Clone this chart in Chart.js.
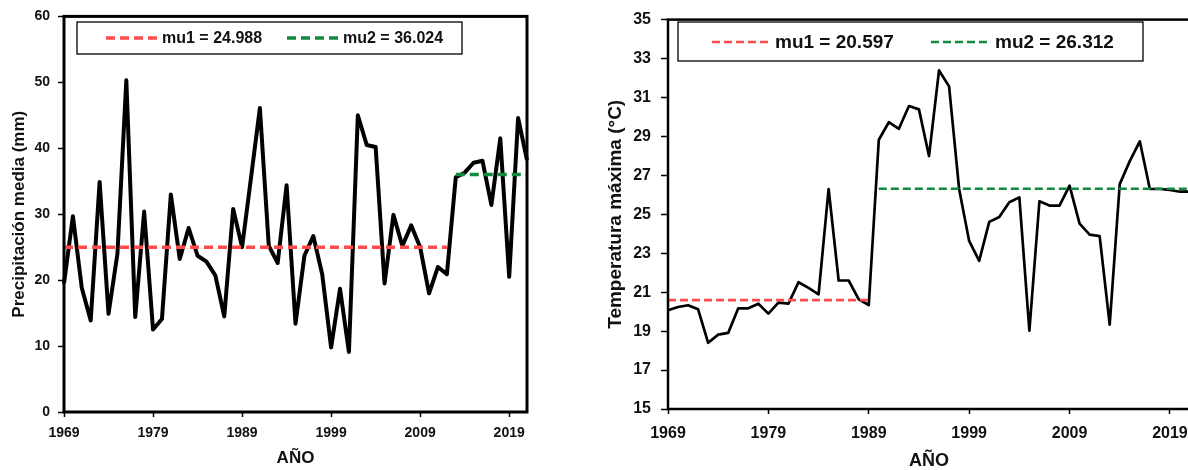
<!DOCTYPE html>
<html>
<head>
<meta charset="utf-8">
<script src="https://cdn.jsdelivr.net/npm/chart.js@4/dist/chart.umd.min.js"></script>
<style>
  html, body { margin: 0; padding: 0; background: #fff; overflow: hidden; width: 1188px; height: 470px; }
  .box { position: absolute; top: 0; }
</style>
</head>
<body>
<div class="box" style="left:0"><canvas id="rain" width="560" height="470"></canvas></div>
<div class="box" style="left:590px"><canvas id="temp" width="610" height="470"></canvas></div>
<script>
/*global Chart */
const years = [1969, 1970, 1971, 1972, 1973, 1974, 1975, 1976, 1977, 1978,
  1979, 1980, 1981, 1982, 1983, 1984, 1985, 1986, 1987, 1988,
  1989, 1990, 1991, 1992, 1993, 1994, 1995, 1996, 1997, 1998,
  1999, 2000, 2001, 2002, 2003, 2004, 2005, 2006, 2007, 2008,
  2009, 2010, 2011, 2012, 2013, 2014, 2015, 2016, 2017, 2018,
  2019, 2020, 2021]

const precipitation = [19.5, 29.7, 18.8, 13.9, 34.9, 14.9, 24.0, 50.3, 14.4, 30.4,
  12.5, 14.1, 33.0, 23.2, 27.9, 23.7, 22.8, 20.7, 14.5, 30.8,
  25.0, 35.5, 46.1, 25.2, 22.6, 34.4, 13.4, 23.7, 26.7, 20.9,
  9.8, 18.7, 9.1, 45.0, 40.5, 40.2, 19.5, 29.9, 25.2, 28.3,
  25.0, 18.0, 22.0, 20.9, 35.6, 36.3, 37.8, 38.1, 31.4, 41.5,
  20.5, 44.6, 38.2]

const tempMax = [20.07, 20.24, 20.33, 20.12, 18.40, 18.82, 18.91, 20.17, 20.17, 20.41,
  19.90, 20.46, 20.41, 21.51, 21.22, 20.89, 26.30, 21.60, 21.60, 20.63,
  20.34, 28.83, 29.73, 29.39, 30.56, 30.39, 27.99, 32.39, 31.57, 26.30,
  23.63, 22.61, 24.61, 24.86, 25.62, 25.87, 19.02, 25.67, 25.45, 25.45,
  26.47, 24.52, 23.96, 23.88, 19.33, 26.55, 27.73, 28.75, 26.30, 26.30,
  26.25, 26.16, 26.16]

// means before / after the change point (last year of first segment)
const rainMu = [24.988, 36.024]
const rainBreak = 2012
const tempMu = [20.597, 26.312]
const tempBreak = 1989

const RED = '#ff4b4b'
const GREEN = '#13893d'
const FONT = "'Liberation Sans', Arial, sans-serif"

const segment = (mu, lastYear, first) => years.map(y => (first ? y <= lastYear : y > lastYear) ? mu : null)

// frame around the plot area + boxed legend
const framePlugin = {
  id: 'frame',
  afterDatasetsDraw (chart, args, opts) {
    const { ctx, chartArea: a } = chart
    ctx.save()
    ctx.strokeStyle = '#000'
    ctx.lineWidth = opts.width
    ctx.strokeRect(a.left, a.top, a.right - a.left, a.bottom - a.top)

    const lg = opts.legend
    ctx.fillStyle = '#fff'
    ctx.fillRect(lg.x, lg.y, lg.w, lg.h)
    ctx.lineWidth = 1.3
    ctx.strokeRect(lg.x, lg.y, lg.w, lg.h)
    ctx.font = lg.font
    ctx.textBaseline = 'middle'
    lg.items.forEach(item => {
      const ds = chart.data.datasets[item.dataset]
      ctx.strokeStyle = ds.borderColor
      ctx.lineWidth = ds.borderWidth
      ctx.setLineDash(lg.dash)
      ctx.beginPath()
      ctx.moveTo(item.x0, lg.cy)
      ctx.lineTo(item.x1, lg.cy)
      ctx.stroke()
      ctx.setLineDash([])
      ctx.fillStyle = '#111'
      ctx.fillText(ds.label, item.tx, lg.cy + 1)
    })
    ctx.restore()
  }
}

const makeChart = (id, cfg) => new Chart(document.getElementById(id), {
  type: 'line',
  data: {
    labels: years,
    datasets: [
      { label: cfg.muLabels[0], data: segment(cfg.mu[0], cfg.brk, true), borderColor: RED, borderWidth: cfg.dashWidth, borderDash: cfg.dash, pointRadius: 0, order: 1 },
      { label: cfg.muLabels[1], data: segment(cfg.mu[1], cfg.brk, false), borderColor: GREEN, borderWidth: cfg.dashWidth, borderDash: cfg.dash, pointRadius: 0, order: 1 },
      { label: cfg.seriesLabel, data: cfg.values, borderColor: '#000', borderWidth: cfg.lineWidth, pointRadius: 0, tension: 0, borderJoinStyle: 'round', order: 2 },
    ]
  },
  options: {
    responsive: false,
    animation: false,
    layout: { padding: cfg.padding },
    plugins: {
      legend: { display: false },
      tooltip: { enabled: false },
      frame: { width: cfg.frameWidth, legend: cfg.legend },
    },
    scales: {
      x: {
        type: 'category',
        afterFit: scale => { scale.height = cfg.xHeight },
        grid: {
          drawOnChartArea: false,
          tickLength: 5,
          tickWidth: 1.5,
          tickColor: c => (c.tick && (years[c.index] - 1969) % 10 === 0) ? '#000' : 'rgba(0,0,0,0)',
        },
        border: { display: false },
        ticks: {
          autoSkip: false, maxRotation: 0, minRotation: 0, padding: cfg.xTickPad,
          color: '#111', font: { family: FONT, size: cfg.tickSize, weight: 'bold' },
          callback: function (v, i) { return (years[i] - 1969) % 10 === 0 ? String(years[i]) : '' }
        },
        title: { display: true, text: 'AÑO', color: '#111', padding: { top: 0, bottom: cfg.xTitlePad }, font: { family: FONT, size: cfg.xTitleSize, weight: 'bold' } },
      },
      y: {
        min: cfg.yMin, max: cfg.yMax,
        afterFit: scale => { scale.width = cfg.yWidth },
        grid: { drawOnChartArea: false, tickLength: cfg.yTickLen, tickWidth: 1.5, tickColor: '#000' },
        border: { display: false },
        ticks: { stepSize: cfg.yStep, padding: cfg.yTickPad, color: '#111', font: { family: FONT, size: cfg.tickSize, weight: 'bold' } },
        title: { display: true, text: cfg.yTitle, color: '#111', padding: { top: cfg.yTitlePad, bottom: 0 }, font: { family: FONT, size: cfg.yTitleSize, weight: 'bold' } },
      }
    }
  },
  plugins: [framePlugin]
})

makeChart('rain', {
  values: precipitation, mu: rainMu, brk: rainBreak,
  muLabels: ['mu1 = ' + rainMu[0].toFixed(3), 'mu2 = ' + rainMu[1].toFixed(3)],
  seriesLabel: 'Precipitación media (mm)',
  yTitle: 'Precipitación media (mm)',
  yMin: 0, yMax: 60, yStep: 10,
  lineWidth: 4, dashWidth: 3.5, dash: [9, 5], frameWidth: 3,
  padding: { top: 15, right: 33, left: 0, bottom: 0 },
  yWidth: 64, xHeight: 58,
  tickSize: 14, xTickPad: 8, yTickLen: 6, yTickPad: 8,
  xTitleSize: 17, xTitlePad: 1, yTitleSize: 17, yTitlePad: 9,
  legend: { x: 77, y: 22, w: 385, h: 32, cy: 38, dash: [9, 5], font: 'bold 16px ' + FONT,
    items: [{ dataset: 0, x0: 106, x1: 157, tx: 162 }, { dataset: 1, x0: 287, x1: 339, tx: 343 }] },
})

makeChart('temp', {
  values: tempMax, mu: tempMu, brk: tempBreak,
  muLabels: ['mu1 = ' + tempMu[0].toFixed(3), 'mu2 = ' + tempMu[1].toFixed(3)],
  seriesLabel: 'Temperatura máxima (°C)',
  yTitle: 'Temperatura máxima (°C)',
  yMin: 15, yMax: 35, yStep: 2,
  lineWidth: 2.7, dashWidth: 2.7, dash: [8, 4], frameWidth: 2.5,
  padding: { top: 15, right: 10, left: 0, bottom: 0 },
  yWidth: 78, xHeight: 61,
  tickSize: 16, xTickPad: 10, yTickLen: 7, yTickPad: 10,
  xTitleSize: 18, xTitlePad: -2, yTitleSize: 19, yTitlePad: 14,
  legend: { x: 88, y: 22, w: 465, h: 39, cy: 42, dash: [8, 4], font: 'bold 19px ' + FONT,
    items: [{ dataset: 0, x0: 122, x1: 180, tx: 185 }, { dataset: 1, x0: 341, x1: 400, tx: 405 }] },
})
</script>
</body>
</html>
